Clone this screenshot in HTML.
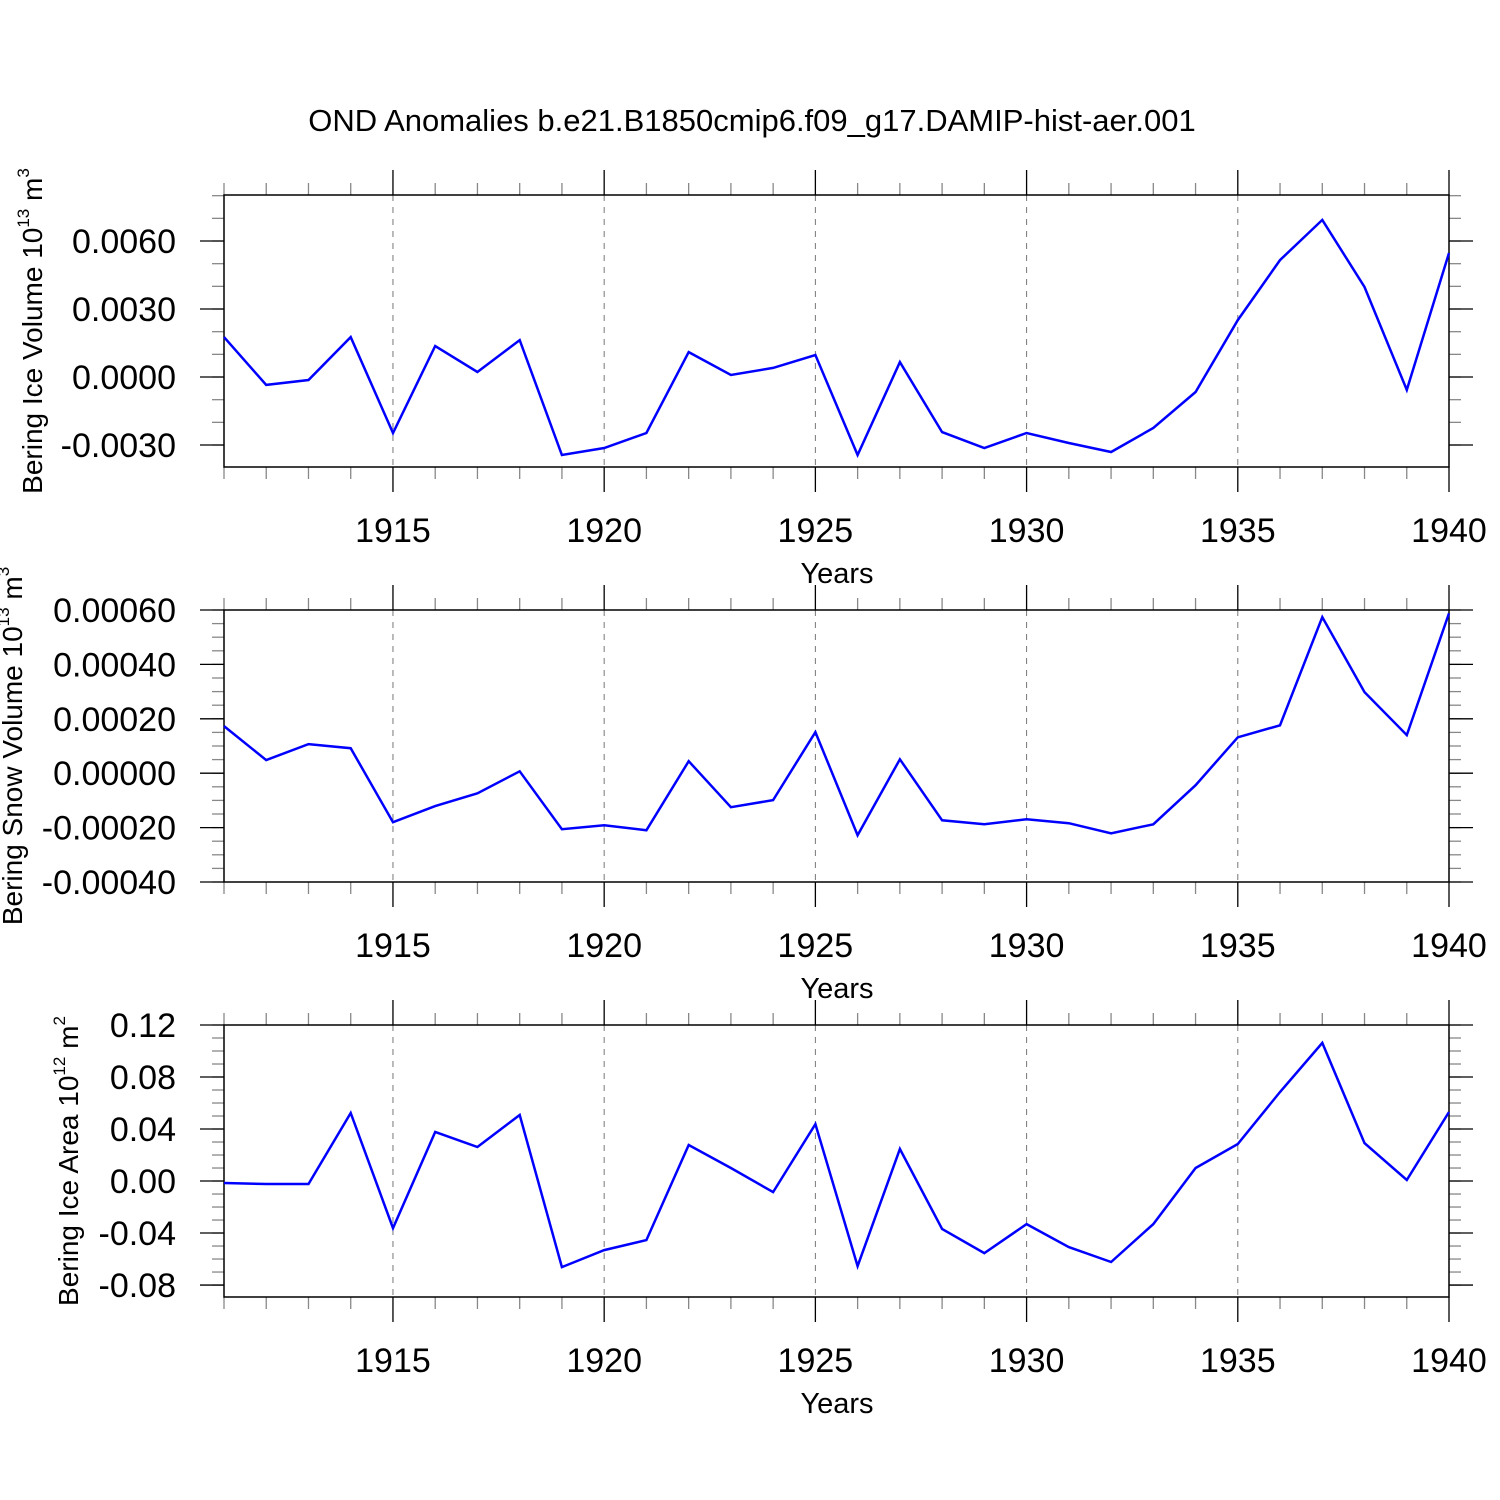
<!DOCTYPE html>
<html><head><meta charset="utf-8"><style>
html,body{margin:0;padding:0;background:#fff;}
svg{display:block;font-family:"Liberation Sans",Arial,sans-serif;}
</style></head><body>
<svg id="chart" width="1500" height="1500" viewBox="0 0 1500 1500">
<text x="752" y="131" font-size="31" text-anchor="middle">OND Anomalies b.e21.B1850cmip6.f09_g17.DAMIP-hist-aer.001</text>
</svg>
<script>
const years = [1911,1912,1913,1914,1915,1916,1917,1918,1919,1920,1921,1922,1923,1924,1925,1926,1927,1928,1929,1930,1931,1932,1933,1934,1935,1936,1937,1938,1939,1940];
const iceVolume = [0.00176,-0.00035,-0.00013,0.00176,-0.00247,0.00137,0.00022,0.00163,-0.00344,-0.00313,-0.00247,0.0011,0.00009,0.0004,0.00097,-0.00344,0.00066,-0.00243,-0.00313,-0.00247,-0.00291,-0.00331,-0.00225,-0.00066,0.00251,0.00516,0.00693,0.00397,-0.00057,0.00547];
const snowVolume = [0.000173,0.000048,0.000107,0.000092,-0.00018,-0.000121,-0.000074,0.000007,-0.000206,-0.000191,-0.00021,0.000044,-0.000125,-0.000099,0.000151,-0.000228,0.000051,-0.000173,-0.000188,-0.000169,-0.000184,-0.000221,-0.000188,-0.000044,0.000132,0.000176,0.000574,0.000298,0.00014,0.000588];
const iceArea = [-0.0015,-0.0023,-0.0023,0.0523,-0.0362,0.0377,0.0262,0.0508,-0.0662,-0.0531,-0.0454,0.0277,0.01,-0.0085,0.0438,-0.0654,0.0246,-0.0369,-0.0554,-0.0331,-0.0508,-0.0623,-0.0331,0.01,0.0285,0.0685,0.1062,0.0292,0.0008,0.0531];
const xTickLabels = ["1915","1920","1925","1930","1935","1940"];
const iceVolTicks = ["0.0060","0.0030","0.0000","-0.0030"];
const snowTicks = ["0.00060","0.00040","0.00020","0.00000","-0.00020","-0.00040"];
const areaTicks = ["0.12","0.08","0.04","0.00","-0.04","-0.08"];

const NS="http://www.w3.org/2000/svg";
const svg=document.getElementById('chart');
function mk(tag,attrs,parent){const e=document.createElementNS(NS,tag);for(const k in attrs)e.setAttribute(k,attrs[k]);(parent||svg).appendChild(e);return e;}
const X0=224,X1=1449;
const xs=y=>X0+(y-1911)*(X1-X0)/29;

const panels=[
 {name:'ice-volume',top:195,ymin:-0.00397,ymax:0.00803,data:iceVolume,ticks:iceVolTicks,minorStep:0.001,minorMin:-0.004,minorMax:0.008,titleX:32,title:'Bering Ice Volume 10',sup:'13',unit:' m',sup2:'3'},
 {name:'snow-volume',top:610,ymin:-0.0004,ymax:0.0006,data:snowVolume,ticks:snowTicks,minorStep:0.00005,minorMin:-0.0004,minorMax:0.0006,titleX:12,title:'Bering Snow Volume 10',sup:'13',unit:' m',sup2:'3'},
 {name:'ice-area',top:1025,ymin:-0.0892,ymax:0.12,data:iceArea,ticks:areaTicks,minorStep:0.01,minorMin:-0.08,minorMax:0.12,titleX:68,title:'Bering Ice Area 10',sup:'12',unit:' m',sup2:'2'}
];
const H=272;
panels.forEach(p=>{
 const g=mk('g',{});
 
 
 const top=p.top,bot=top+H;
 const ys=v=>bot-(v-p.ymin)/(p.ymax-p.ymin)*H;
 for(let yr=1915;yr<=1935;yr+=5){
  const l=mk('line',{x1:xs(yr),x2:xs(yr),y1:top,y2:bot,stroke:'#777','stroke-width':1,'stroke-dasharray':'6,6'},g);
  
  
 }
 years.forEach(yr=>{
  const maj=(yr%5===0);const len=maj?25:12;
  mk('line',{x1:xs(yr),x2:xs(yr),y1:top,y2:top-len,stroke:maj?'#000':'#888','stroke-width':1.3},g);
  mk('line',{x1:xs(yr),x2:xs(yr),y1:bot,y2:bot+len,stroke:maj?'#000':'#888','stroke-width':1.3},g);
 });
 const n=Math.round((p.minorMax-p.minorMin)/p.minorStep);
 for(let i=0;i<=n;i++){
  const v=p.minorMin+i*p.minorStep;const y=ys(v);
  if(y<top-0.5||y>bot+0.5)continue;
  mk('line',{x1:X0,x2:X0-12,y1:y,y2:y,stroke:'#888','stroke-width':1.3},g);
  mk('line',{x1:X1,x2:X1+12,y1:y,y2:y,stroke:'#888','stroke-width':1.3},g);
 }
 p.ticks.forEach(t=>{
  const y=ys(parseFloat(t));
  mk('line',{x1:X0,x2:X0-24,y1:y,y2:y,stroke:'#000','stroke-width':1.3},g);
  mk('line',{x1:X1,x2:X1+24,y1:y,y2:y,stroke:'#000','stroke-width':1.3},g);
  const tx=mk('text',{x:176,y:y+12,'font-size':34,'text-anchor':'end'},g);
  
  
  tx.textContent=t;
 });
 xTickLabels.forEach(t=>{
  const tx=mk('text',{x:xs(+t),y:bot+75,'font-size':34,'text-anchor':'middle'},g);
  
  
  tx.textContent=t;
 });
 const xt=mk('text',{x:837,y:bot+116,'font-size':29,'text-anchor':'middle'},g);
 
 
 xt.textContent='Years';
 const r=mk('rect',{x:X0,y:top,width:X1-X0,height:H,fill:'none',stroke:'#000','stroke-width':1.5},g);
 
 
 const pts=p.data.map((v,i)=>xs(years[i]).toFixed(1)+','+ys(v).toFixed(1)).join(' ');
 const pl=mk('polyline',{points:pts,fill:'none',stroke:'#0000ff','stroke-width':2.5,'stroke-linejoin':'miter'},g);
 
 
 const cy=top+H/2;
 const yt=mk('text',{x:0,y:0,'font-size':28,'text-anchor':'middle',transform:`translate(${p.titleX+10},${cy}) rotate(-90)`},g);
 
 
 const s1=mk('tspan',{},yt);s1.textContent=p.title;
 const s2=mk('tspan',{'font-size':17,dy:-13},yt);s2.textContent=p.sup;
 const s3=mk('tspan',{dy:13},yt);s3.textContent=p.unit;
 const s4=mk('tspan',{'font-size':17,dy:-13},yt);s4.textContent=p.sup2;
});
</script>
</body></html>
